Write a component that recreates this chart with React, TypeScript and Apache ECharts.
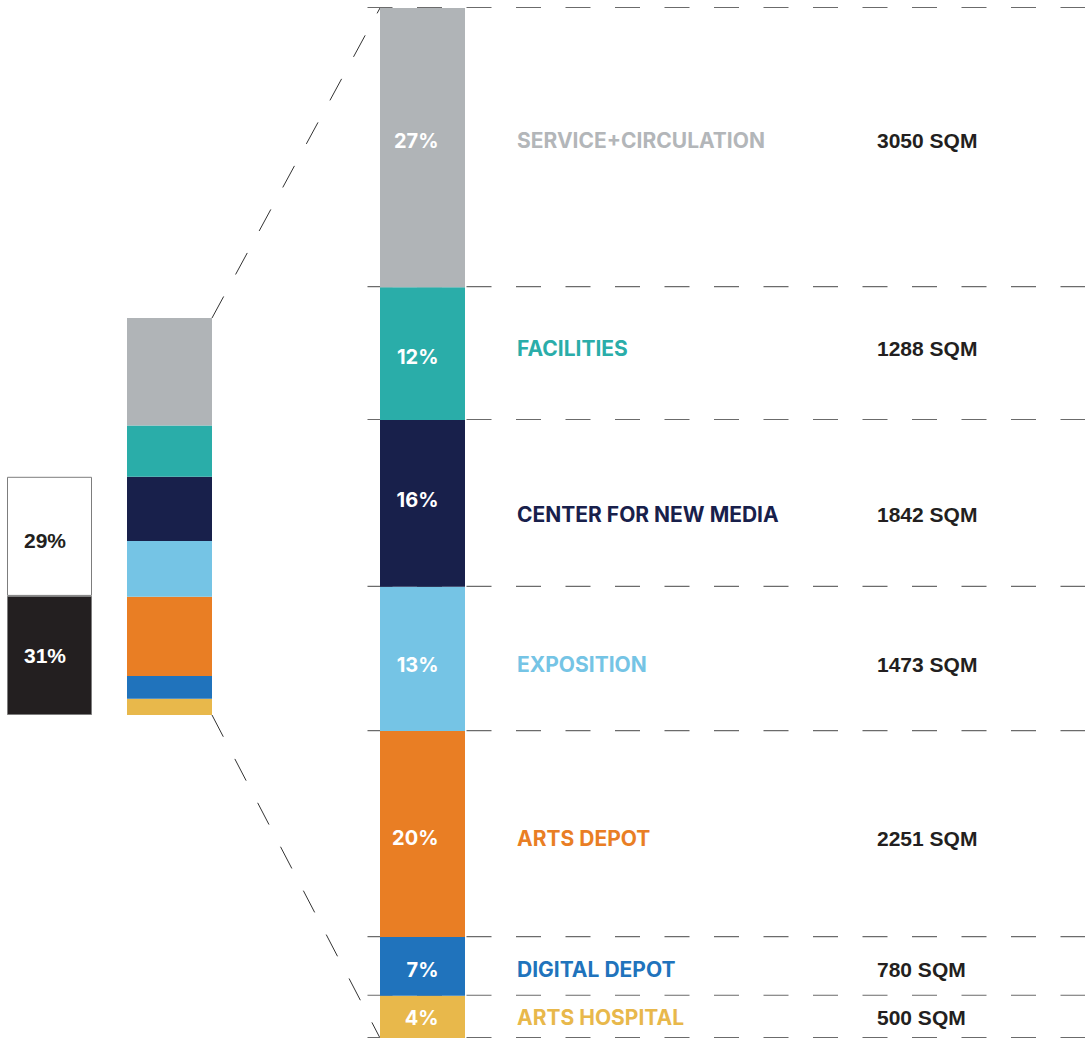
import React, { useEffect, useRef } from "react";
import * as echarts from "echarts";

// ---------- data (top to bottom) ----------
const categories = [
  "SERVICE+CIRCULATION",
  "FACILITIES",
  "CENTER FOR NEW MEDIA",
  "EXPOSITION",
  "ARTS DEPOT",
  "DIGITAL DEPOT",
  "ARTS HOSPITAL",
];
const percentLabels = ["27%", "12%", "16%", "13%", "20%", "7%", "4%"];
const areaSqm = [3050, 1288, 1842, 1473, 2251, 780, 500];
// share of the bar height occupied by each segment, as drawn (percent)
const segmentShares = [27.1, 12.9, 16.2, 14.0, 20.0, 5.7, 4.1];

// overview bar (top white, bottom black)
const overviewLabels = ["29%", "31%"];
const overviewShares = [30, 30];

// ---------- styles ----------
const FONT = "Inter, 'Liberation Sans', sans-serif";
const FONT_SQM = "'Liberation Sans', Arial, sans-serif";
const segColors = ["#b0b4b7", "#2aada9", "#18204b", "#75c4e5", "#e97e24", "#2073bc", "#e8b84b"];
const textColors = ["#b3b6b9", "#2aada9", "#18204b", "#75c4e5", "#e97e24", "#2073bc", "#e8b84b"];
const PCT_DY = [-7, 3.5, -3.5, 6, 4, 3.5, 1];
const NAME_DY = [-7, -5.5, 11.5, 6, 4, 3.5, 1];

const BAR_W = 85;
const SMALL_TOP = 318;
const SMALL_H = 397;
const BIG_TOP = 8;
const BIG_H = 1030;

export default function App() {
  const ref = useRef<HTMLDivElement>(null);

  useEffect(() => {
    if (!ref.current) return;
    const chart = echarts.init(ref.current, null, { renderer: "svg" });

    const stackOrder = categories.map((_, i) => i).reverse();

    const grids = [
      { left: 7, top: SMALL_TOP, width: BAR_W, height: SMALL_H },
      { left: 127, top: SMALL_TOP, width: BAR_W, height: SMALL_H },
      { left: 380, top: BIG_TOP, width: BAR_W, height: BIG_H },
      { left: 380 + BAR_W, top: BIG_TOP, width: 1085 - 380 - BAR_W, height: BIG_H },
    ];
    const xAxes = grids.map((_, g) => ({
      type: "category" as const,
      gridIndex: g,
      data: [""],
      show: false,
    }));
    const yAxes = grids.map((_, g) => ({
      type: "value" as const,
      gridIndex: g,
      min: 0,
      max: 100,
      show: false,
    }));

    const series: any[] = [];

    // overview bar: black bottom, white top
    const ovOrder = [1, 0];
    ovOrder.forEach((i) => {
      series.push({
        type: "bar",
        xAxisIndex: 0,
        yAxisIndex: 0,
        stack: "ov",
        barWidth: "100%",
        silent: true,
        data: [overviewShares[i]],
        itemStyle: {
          color: i === 0 ? "#ffffff" : "#231f20",
          borderColor: "#7d7d7d",
          borderWidth: 1,
        },
        label: {
          show: true,
          position: [59, "50%"],
          align: "right",
          verticalAlign: "middle",
          offset: [0, i === 0 ? 4.5 : 0.5],
          formatter: overviewLabels[i],
          color: i === 0 ? "#231f20" : "#ffffff",
          fontFamily: FONT_SQM,
          fontWeight: "bold",
          fontSize: 21,
        },
      });
    });

    // middle bar
    stackOrder.forEach((i) => {
      series.push({
        type: "bar",
        xAxisIndex: 1,
        yAxisIndex: 1,
        stack: "mid",
        barWidth: "100%",
        silent: true,
        data: [segmentShares[i]],
        itemStyle: { color: segColors[i] },
      });
    });

    // big bar with percentages
    stackOrder.forEach((i) => {
      series.push({
        type: "bar",
        xAxisIndex: 2,
        yAxisIndex: 2,
        stack: "big",
        barWidth: "100%",
        silent: true,
        z: 3,
        data: [segmentShares[i]],
        itemStyle: { color: segColors[i] },
        label: {
          show: true,
          position: [58.5, "50%"],
          align: "right",
          verticalAlign: "middle",
          offset: [0, PCT_DY[i]],
          formatter: percentLabels[i],
          color: "#ffffff",
          fontFamily: FONT,
          fontWeight: "bold",
          fontSize: 20,
        },
      });
    });

    // names + areas (transparent stacked bars)
    stackOrder.forEach((i) => {
      series.push({
        type: "bar",
        xAxisIndex: 3,
        yAxisIndex: 3,
        stack: "names",
        barWidth: "100%",
        silent: true,
        z: 4,
        data: [segmentShares[i]],
        itemStyle: { color: "rgba(0,0,0,0)" },
        label: {
          show: true,
          position: [52, "50%"],
          align: "left",
          verticalAlign: "middle",
          offset: [0, NAME_DY[i]],
          formatter: `{n|${categories[i]}}{s|${areaSqm[i]} SQM}`,
          rich: {
            n: {
              width: 360,
              color: textColors[i],
              fontFamily: FONT,
              fontWeight: "bold",
              fontSize: 21,
            },
            s: {
              color: "#231f20",
              fontFamily: FONT_SQM,
              fontWeight: "bold",
              fontSize: 21,
            },
          },
        },
      });
    });

    // dashed boundary lines
    const boundaries: number[] = [100];
    let acc = 100;
    segmentShares.forEach((v) => {
      acc -= v;
      boundaries.push(Math.max(0, Math.round(acc * 100) / 100));
    });
    series.push({
      type: "custom",
      xAxisIndex: 2,
      yAxisIndex: 2,
      z: 1,
      silent: true,
      data: boundaries.map((v) => [0, v]),
      renderItem: (_params: any, api: any) => {
        const p = api.coord([0, api.value(1)]);
        const half = api.size([1, 0])[0] / 2;
        return {
          type: "line",
          shape: { x1: p[0] - half - 12.5, y1: p[1] - 0.5, x2: api.getWidth(), y2: p[1] - 0.5 },
          style: { stroke: "#6b6b6b", lineWidth: 1.2, lineDash: [25, 24.5] },
        };
      },
    });

    chart.setOption({
      animation: false,
      backgroundColor: "#ffffff",
      grid: grids,
      xAxis: xAxes,
      yAxis: yAxes,
      series,
    });

    // connectors between the middle bar and the big bar
    const midTop = chart.convertToPixel({ xAxisIndex: 1, yAxisIndex: 1 }, [0, 100]) as number[];
    const midBot = chart.convertToPixel({ xAxisIndex: 1, yAxisIndex: 1 }, [0, 0]) as number[];
    const bigTop = chart.convertToPixel({ xAxisIndex: 2, yAxisIndex: 2 }, [0, 100]) as number[];
    const bigBot = chart.convertToPixel({ xAxisIndex: 2, yAxisIndex: 2 }, [0, 0]) as number[];
    const h = BAR_W / 2;
    const dashStyle = { stroke: "#333333", lineWidth: 1, lineDash: [24.5, 25] };
    chart.setOption({
      graphic: [
        {
          type: "line",
          silent: true,
          shape: { x1: midTop[0] + h, y1: midTop[1], x2: bigTop[0] - h, y2: bigTop[1] },
          style: dashStyle,
        },
        {
          type: "line",
          silent: true,
          shape: { x1: midBot[0] + h, y1: midBot[1], x2: bigBot[0] - h, y2: bigBot[1] },
          style: dashStyle,
        },
      ],
    });

    return () => chart.dispose();
  }, []);

  return (
    <div
      ref={ref}
      style={{ position: "absolute", left: 0, top: 0, width: 1085, height: 1041 }}
    />
  );
}
